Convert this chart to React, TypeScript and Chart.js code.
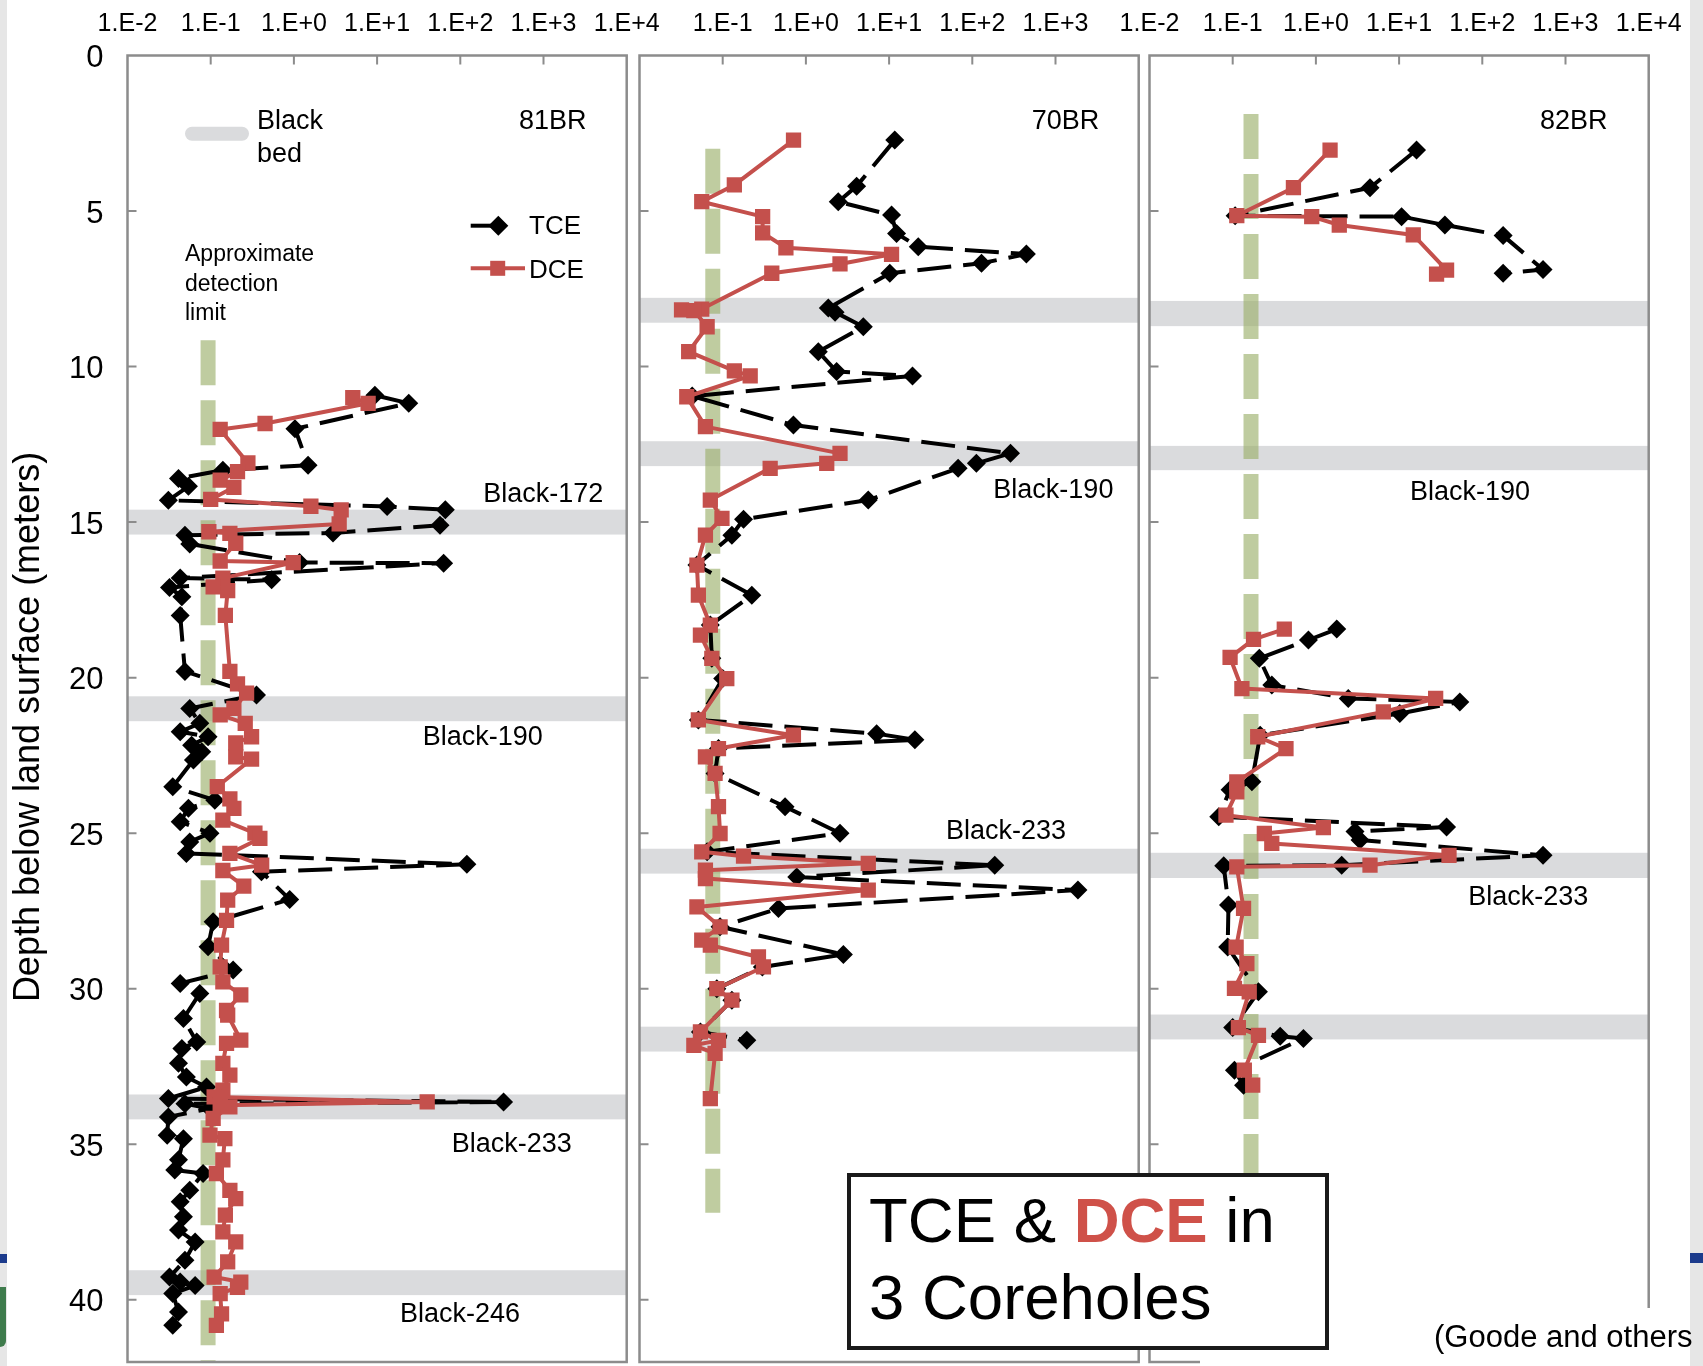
import React, { useEffect, useRef } from 'react';
import { Chart, registerables } from 'chart.js';

Chart.register(...registerables);

const W = 1703;
const H = 1366;
const FONT = "'Liberation Sans', Arial, Helvetica, sans-serif";
const RED = '#c4504c';
const BED_COLOR = '#dadbdd';
const GREEN = 'rgba(157,177,109,0.65)';
const FRAME = '#8c8c8c';

// ---- axes ----
const DECADES = [0.01, 0.1, 1, 10, 100, 1000, 10000];
const DECADE_LABELS = ['1.E-2', '1.E-1', '1.E+0', '1.E+1', '1.E+2', '1.E+3', '1.E+4'];
const DEPTH_TICKS = [0, 5, 10, 15, 20, 25, 30, 35, 40];
const DEPTH_MAX = 42;
const Y_TITLE = 'Depth below land surface (meters)';

// ---- corehole 81BR ----
const BR81_TCE_DEPTH = [10.92, 11.18, 12.0, 13.17, 13.33, 13.6, 13.85, 14.3, 14.5, 14.6, 15.1, 15.35, 15.42, 15.7, 16.3, 16.32, 16.8, 16.85, 17.1, 17.4, 18.0, 19.8, 20.56, 20.99, 21.47, 21.74, 21.9, 22.17, 22.38, 22.65, 23.51, 23.94, 24.2, 24.63, 25.0, 25.28, 25.65, 26.0, 26.24, 27.13, 27.85, 28.65, 29.4, 29.83, 30.15, 30.96, 31.71, 31.92, 32.4, 32.84, 33.16, 33.53, 33.64, 33.7, 33.85, 34.12, 34.71, 34.82, 35.5, 35.83, 35.94, 36.48, 36.85, 37.33, 37.76, 38.14, 38.73, 39.27, 39.43, 39.54, 39.8, 40.39, 40.82];
const BR81_TCE = [9.4, 24, 1.03, 1.48, 0.14, 0.041, 0.054, 0.031, 13.2, 66, 57, 2.95, 0.049, 0.056, 1.17, 63, 0.043, 0.54, 0.032, 0.045, 0.043, 0.049, 0.355, 0.056, 0.074, 0.043, 0.093, 0.059, 0.078, 0.062, 0.035, 0.112, 0.054, 0.043, 0.098, 0.056, 0.051, 120, 0.407, 0.89, 0.107, 0.093, 0.186, 0.043, 0.074, 0.047, 0.068, 0.045, 0.041, 0.051, 0.089, 0.031, 331, 0.049, 0.098, 0.031, 0.03, 0.047, 0.041, 0.037, 0.081, 0.056, 0.043, 0.047, 0.041, 0.065, 0.049, 0.032, 0.043, 0.065, 0.035, 0.041, 0.035];
const BR81_DCE_DEPTH = [11.0, 11.18, 11.83, 12.02, 13.1, 13.38, 13.65, 13.88, 14.27, 14.49, 14.61, 15.06, 15.31, 15.36, 15.68, 16.25, 16.3, 16.8, 17.08, 17.2, 18.0, 19.8, 20.2, 20.5, 20.99, 21.2, 21.47, 21.9, 22.1, 22.55, 22.62, 23.5, 23.9, 24.2, 24.58, 25.0, 25.17, 25.65, 26.03, 26.2, 26.7, 27.15, 27.8, 28.6, 29.3, 29.78, 30.2, 30.7, 30.85, 31.65, 31.76, 32.4, 32.78, 33.26, 33.48, 33.64, 33.75, 33.8, 34.17, 34.71, 34.82, 35.5, 35.94, 36.48, 36.75, 37.28, 37.82, 38.14, 38.78, 39.27, 39.43, 39.6, 39.8, 40.45, 40.82];
const BR81_DCE = [5.1, 7.8, 0.45, 0.13, 0.28, 0.21, 0.13, 0.19, 0.1, 1.6, 3.7, 3.5, 0.095, 0.17, 0.2, 0.13, 0.98, 0.14, 0.107, 0.16, 0.15, 0.17, 0.21, 0.27, 0.19, 0.13, 0.26, 0.31, 0.2, 0.2, 0.31, 0.12, 0.17, 0.19, 0.14, 0.34, 0.39, 0.17, 0.41, 0.14, 0.25, 0.16, 0.155, 0.135, 0.13, 0.14, 0.23, 0.155, 0.16, 0.23, 0.155, 0.14, 0.17, 0.14, 0.11, 40, 0.13, 0.17, 0.107, 0.098, 0.148, 0.14, 0.117, 0.17, 0.2, 0.15, 0.14, 0.2, 0.16, 0.11, 0.23, 0.21, 0.13, 0.135, 0.117];
const BR81_BEDS = [[14.6, 15.4], [20.6, 21.4], [33.4, 34.2], [39.05, 39.85]];
const BR81_LIMIT = 0.093;
const BR81_LIMIT_DEPTHS = [9.15, 42];
const BR81_NOTES = [['81BR', 508, 2.36], ['Black-172', 189, 14.35], ['Black-190', 35.3, 22.17], ['Black-233', 78.9, 35.25], ['Black-246', 18.8, 40.71]];

// ---- corehole 70BR ----
const BR70_TCE_DEPTH = [2.72, 4.2, 4.7, 5.13, 5.72, 6.15, 6.38, 6.68, 7.0, 8.12, 8.25, 8.72, 9.52, 10.16, 10.3, 10.95, 11.88, 12.79, 13.11, 13.27, 14.29, 14.91, 15.42, 16.38, 17.35, 18.31, 19.38, 20.03, 21.36, 21.8, 22.0, 22.28, 23.08, 24.15, 25.0, 25.6, 26.03, 26.41, 26.83, 27.42, 28.01, 28.9, 29.3, 30.0, 30.37, 31.39, 31.66];
const BR70_TCE = [11.7, 4.07, 2.45, 10.7, 12.3, 22.4, 447, 129, 10.2, 1.86, 2.24, 4.9, 1.41, 2.34, 19.1, 0.043, 0.708, 288, 112, 67.6, 5.62, 0.178, 0.129, 0.049, 0.224, 0.071, 0.074, 0.1, 0.051, 7.08, 20.4, 0.089, 0.081, 0.562, 2.57, 0.065, 186, 0.776, 1862, 0.468, 0.093, 2.82, 0.3, 0.085, 0.129, 0.054, 0.195];
const BR70_DCE_DEPTH = [2.72, 4.16, 4.7, 5.18, 5.7, 6.18, 6.39, 6.7, 7.0, 8.15, 8.18, 8.2, 8.72, 9.52, 10.14, 10.3, 10.97, 11.93, 12.79, 13.11, 13.27, 14.29, 14.88, 15.42, 16.38, 17.35, 18.31, 18.63, 19.38, 20.03, 21.36, 21.85, 22.28, 22.55, 23.08, 24.15, 25.01, 25.6, 25.74, 25.97, 26.19, 26.46, 26.83, 27.37, 28.01, 28.44, 28.6, 28.98, 29.3, 30.0, 30.37, 31.39, 31.66, 31.82, 32.08, 33.53];
const BR70_DCE = [0.71, 0.138, 0.056, 0.302, 0.302, 0.575, 10.7, 2.57, 0.389, 0.056, 0.032, 0.045, 0.065, 0.039, 0.138, 0.214, 0.037, 0.062, 2.57, 1.78, 0.372, 0.071, 0.098, 0.062, 0.049, 0.051, 0.071, 0.054, 0.074, 0.112, 0.051, 0.708, 0.089, 0.062, 0.081, 0.089, 0.093, 0.056, 0.178, 5.62, 0.062, 0.062, 5.62, 0.049, 0.093, 0.056, 0.071, 0.269, 0.309, 0.085, 0.129, 0.054, 0.089, 0.045, 0.081, 0.071];
const BR70_BEDS = [[7.79, 8.59], [12.4, 13.2], [25.5, 26.3], [31.22, 32.02]];
const BR70_LIMIT = 0.076;
const BR70_LIMIT_DEPTHS = [3.0, 37.2];
const BR70_NOTES = [['70BR', 518, 2.37], ['Black-190', 179, 14.24], ['Black-233', 48.3, 25.2]];

// ---- corehole 82BR (two sampled intervals) ----
const BR82_TCE_DEPTH_UPPER = [3.04, 4.25, 5.15, 5.18, 5.45, 5.79, 6.88, 7.0];
const BR82_TCE_UPPER = [16.2, 4.47, 0.107, 10.7, 35.5, 178, 537, 178];
const BR82_DCE_DEPTH_UPPER = [3.04, 4.25, 5.15, 5.18, 5.45, 5.77, 6.9, 7.03];
const BR82_DCE_UPPER = [1.48, 0.537, 0.112, 0.891, 1.91, 14.8, 37.2, 28.2];
const BR82_TCE_DEPTH_LOWER = [18.44, 18.79, 19.38, 20.24, 20.67, 20.78, 21.15, 21.85, 23.35, 23.6, 24.47, 24.8, 24.95, 25.22, 25.71, 26.03, 26.05, 27.31, 28.66, 30.1, 31.25, 31.53, 31.6, 32.62, 33.1];
const BR82_TCE_LOWER = [1.78, 0.813, 0.209, 0.295, 2.45, 53.7, 10.2, 0.214, 0.17, 0.093, 0.068, 37.2, 2.95, 3.39, 537, 2.04, 0.078, 0.089, 0.087, 0.204, 0.1, 0.372, 0.708, 0.105, 0.135];
const BR82_DCE_DEPTH_LOWER = [18.44, 18.77, 19.35, 20.35, 20.67, 21.1, 21.9, 22.28, 23.35, 23.67, 24.42, 24.82, 25.01, 25.33, 25.71, 26.03, 26.08, 27.42, 28.66, 29.19, 29.99, 30.1, 31.25, 31.5, 32.62, 33.1];
const BR82_DCE_LOWER = [0.417, 0.178, 0.093, 0.129, 27.5, 6.46, 0.2, 0.437, 0.112, 0.112, 0.083, 1.23, 0.24, 0.295, 39.8, 4.47, 0.112, 0.135, 0.11, 0.148, 0.105, 0.158, 0.117, 0.204, 0.138, 0.174];
const BR82_BEDS = [[7.89, 8.7], [12.55, 13.33], [25.63, 26.44], [30.83, 31.63]];
const BR82_LIMIT = 0.166;
const BR82_LIMIT_DEPTHS = [1.88, 37.5];
const BR82_NOTES = [['82BR', 494, 2.36], ['Black-190', 13.5, 14.28], ['Black-233', 67.9, 27.32]];

const ALL = [true, true, true, true, true, true, true];
const INNER = [false, true, true, true, true, true, false];

const PANELS = [
  { name: '81BR', left: 127.5, right: 626.7, top: 55.5, bottom: 1362, yLabels: true, legend: true, tickLabels: ALL,
    tce: [[BR81_TCE_DEPTH, BR81_TCE]], dce: [[BR81_DCE_DEPTH, BR81_DCE]],
    beds: BR81_BEDS, limit: BR81_LIMIT, limitDepths: BR81_LIMIT_DEPTHS, notes: BR81_NOTES },
  { name: '70BR', left: 639.5, right: 1138.7, top: 55.5, bottom: 1362, yLabels: false, legend: false, tickLabels: INNER,
    tce: [[BR70_TCE_DEPTH, BR70_TCE]], dce: [[BR70_DCE_DEPTH, BR70_DCE]],
    beds: BR70_BEDS, limit: BR70_LIMIT, limitDepths: BR70_LIMIT_DEPTHS, notes: BR70_NOTES },
  { name: '82BR', left: 1149.5, right: 1648.7, top: 55.5, bottom: 1362, yLabels: false, legend: false, tickLabels: ALL,
    tce: [[BR82_TCE_DEPTH_UPPER, BR82_TCE_UPPER], [BR82_TCE_DEPTH_LOWER, BR82_TCE_LOWER]],
    dce: [[BR82_DCE_DEPTH_UPPER, BR82_DCE_UPPER], [BR82_DCE_DEPTH_LOWER, BR82_DCE_LOWER]],
    beds: BR82_BEDS, limit: BR82_LIMIT, limitDepths: BR82_LIMIT_DEPTHS, notes: BR82_NOTES },
];

function drawLegend(ctx: CanvasRenderingContext2D, L: number, T: number) {
  ctx.save();
  ctx.strokeStyle = BED_COLOR;
  ctx.lineWidth = 14;
  ctx.lineCap = 'round';
  ctx.beginPath();
  ctx.moveTo(L + 64.5, T + 78.2);
  ctx.lineTo(L + 114.5, T + 78.2);
  ctx.stroke();
  ctx.lineCap = 'butt';
  ctx.fillStyle = '#000';
  ctx.textAlign = 'left';
  ctx.textBaseline = 'alphabetic';
  ctx.font = `27px ${FONT}`;
  ctx.fillText('Black', L + 129.5, T + 73.5);
  ctx.fillText('bed', L + 129.5, T + 106.2);

  // TCE
  ctx.strokeStyle = '#000';
  ctx.lineWidth = 4;
  ctx.beginPath();
  ctx.moveTo(L + 343.2, T + 170.2);
  ctx.lineTo(L + 371, T + 170.2);
  ctx.stroke();
  const dx = L + 370.8, dy = T + 170.2, r = 10;
  ctx.beginPath();
  ctx.moveTo(dx - r, dy); ctx.lineTo(dx, dy - r); ctx.lineTo(dx + r, dy); ctx.lineTo(dx, dy + r);
  ctx.closePath();
  ctx.fill();
  ctx.font = `26px ${FONT}`;
  ctx.fillText('TCE', L + 401.5, T + 178.5);

  // DCE
  ctx.strokeStyle = RED;
  ctx.beginPath();
  ctx.moveTo(L + 343.2, T + 212.8);
  ctx.lineTo(L + 397.5, T + 212.8);
  ctx.stroke();
  ctx.fillStyle = RED;
  ctx.fillRect(L + 370.2 - 7.5, T + 212.8 - 7.5, 15, 15);
  ctx.fillStyle = '#000';
  ctx.fillText('DCE', L + 401.5, T + 222.2);

  ctx.font = `23px ${FONT}`;
  ctx.fillText('Approximate', L + 57.5, T + 205.2);
  ctx.fillText('detection', L + 57.5, T + 235.2);
  ctx.fillText('limit', L + 57.5, T + 264.5);
  ctx.restore();
}

function decorPlugin(p: any) {
  return {
    id: 'decor' + p.name,
    beforeDatasetsDraw(chart: any) {
      const { ctx, chartArea: a } = chart;
      const y = chart.scales.y;
      ctx.save();
      ctx.fillStyle = BED_COLOR;
      p.beds.forEach(([t, b]: number[]) => {
        const y1 = y.getPixelForValue(t);
        const y2 = y.getPixelForValue(b);
        ctx.fillRect(a.left, y1, a.right - a.left, y2 - y1);
      });
      ctx.restore();
    },
    afterDatasetsDraw(chart: any) {
      const { ctx, chartArea: a } = chart;
      const x = chart.scales.x;
      const y = chart.scales.y;
      ctx.save();
      ctx.strokeStyle = FRAME;
      ctx.lineWidth = 2.5;
      ctx.strokeRect(a.left, a.top, a.right - a.left, a.bottom - a.top);
      ctx.lineWidth = 2;
      ctx.beginPath();
      DEPTH_TICKS.slice(1).forEach((d) => {
        const py = y.getPixelForValue(d);
        ctx.moveTo(a.left, py);
        ctx.lineTo(a.left + 9, py);
      });
      DECADES.slice(1, -1).forEach((v) => {
        const px = x.getPixelForValue(v);
        ctx.moveTo(px, a.top);
        ctx.lineTo(px, a.top + 9);
      });
      ctx.stroke();

      ctx.fillStyle = '#000';
      ctx.font = `27px ${FONT}`;
      ctx.textAlign = 'left';
      ctx.textBaseline = 'alphabetic';
      p.notes.forEach(([t, xv, d]: any[]) => {
        ctx.fillText(t, x.getPixelForValue(xv), y.getPixelForValue(d));
      });
      if (p.legend) drawLegend(ctx, a.left, a.top);
      if (p.yLabels) {
        ctx.save();
        ctx.translate(29, 727);
        ctx.rotate(-Math.PI / 2);
        ctx.textAlign = 'center';
        ctx.textBaseline = 'middle';
        ctx.font = `36px ${FONT}`;
        ctx.fillText(Y_TITLE, 0, 0);
        ctx.restore();
      }
      ctx.restore();
    },
  };
}

function makeChart(canvas: HTMLCanvasElement, p: any) {
  const toPts = (d: number[], v: number[]) => d.map((dep, i) => ({ x: v[i], y: dep }));
  const datasets: any[] = [];
  p.dce.forEach(([d, v]: number[][]) =>
    datasets.push({
      label: 'DCE', data: toPts(d, v), showLine: true, order: 1,
      borderColor: RED, backgroundColor: RED, borderWidth: 4, borderJoinStyle: 'round',
      pointStyle: 'rect', pointRadius: 10.8, pointBorderWidth: 0, pointBackgroundColor: RED,
    })
  );
  p.tce.forEach(([d, v]: number[][]) =>
    datasets.push({
      label: 'TCE', data: toPts(d, v), showLine: true, order: 2,
      borderColor: '#000', backgroundColor: '#000', borderWidth: 4, borderDash: [34, 12], borderJoinStyle: 'round',
      pointStyle: 'rectRot', pointRadius: 9.5, pointBorderWidth: 0, pointBackgroundColor: '#000',
    })
  );
  datasets.push({
    label: 'Approximate detection limit',
    data: [{ x: p.limit, y: p.limitDepths[0] }, { x: p.limit, y: p.limitDepths[1] }],
    showLine: true, order: 3, borderColor: GREEN, borderWidth: 15, borderDash: [45, 15], borderCapStyle: 'butt',
    pointRadius: 0,
  });

  return new Chart(canvas, {
    type: 'scatter',
    data: { datasets },
    options: {
      responsive: false,
      animation: false,
      events: [],
      layout: { autoPadding: false, padding: { left: p.yLabels ? 0 : p.left, right: W - p.right, top: 0, bottom: H - p.bottom } },
      plugins: { legend: { display: false }, tooltip: { enabled: false } },
      scales: {
        x: {
          type: 'logarithmic', position: 'top', min: 0.01, max: 10000,
          afterBuildTicks: (s: any) => { s.ticks = DECADES.map((v) => ({ value: v })); },
          afterFit: (s: any) => { s.height = p.top; s.paddingLeft = 0; s.paddingRight = 0; },
          grid: { display: false, drawTicks: false },
          border: { display: false },
          ticks: {
            autoSkip: false, maxRotation: 0, minRotation: 0, padding: 16.5, color: '#000',
            font: { family: FONT, size: 25 },
            callback: (_v: any, i: number) => (p.tickLabels[i] ? DECADE_LABELS[i] : ''),
          },
        },
        y: {
          type: 'linear', reverse: true, min: 0, max: DEPTH_MAX,
          afterBuildTicks: (s: any) => { s.ticks = DEPTH_TICKS.map((v) => ({ value: v })); },
          afterFit: (s: any) => { s.width = p.yLabels ? p.left : 0; s.paddingTop = 0; s.paddingBottom = 0; },
          grid: { display: false, drawTicks: false },
          border: { display: false },
          ticks: { display: p.yLabels, padding: 24, labelOffset: 3, color: '#000', font: { family: FONT, size: 31 } },
        },
      },
    } as any,
    plugins: [decorPlugin(p)],
  });
}

export default function App() {
  const r0 = useRef<HTMLCanvasElement>(null);
  const r1 = useRef<HTMLCanvasElement>(null);
  const r2 = useRef<HTMLCanvasElement>(null);
  const refs = [r0, r1, r2];

  useEffect(() => {
    const charts = PANELS.map((p, i) => makeChart(refs[i].current as HTMLCanvasElement, p));
    return () => charts.forEach((c) => c.destroy());
  }, []);

  const abs = (l: number, t: number, w: number, h: number, extra: any = {}) => ({
    position: 'absolute' as const, left: l, top: t, width: w, height: h, ...extra,
  });

  return (
    <div style={{ position: 'absolute', left: 0, top: 0, width: W, height: H, overflow: 'hidden', background: '#fff', fontFamily: FONT }}>
      <div style={abs(0, 0, 7, H, { background: '#e6e6e6' })} />
      <div style={abs(1690, 0, 13, H, { background: '#e6e6e6' })} />
      <div style={abs(0, 1254, 7, 9, { background: '#1c3b8c' })} />
      <div style={abs(1690, 1253, 13, 10, { background: '#1c3b8c' })} />
      <div style={abs(0, 1287, 6, 60, { background: '#3e7b4c', borderBottomRightRadius: 6 })} />
      {PANELS.map((p, i) => (
        <canvas key={p.name} ref={refs[i]} width={W} height={H} style={{ position: 'absolute', left: 0, top: 0 }} />
      ))}
      <div style={abs(1200, 1308, 490, 58, { background: '#fff' })} />
      <div style={abs(847, 1173, 482, 177, {
        boxSizing: 'border-box', border: '4px solid #1a1a1a', background: '#fff', paddingLeft: 18, paddingTop: 5,
        fontSize: 63.5, lineHeight: '77px', color: '#000', whiteSpace: 'nowrap',
      })}>
        <div>TCE &amp; <span style={{ color: '#cf5149', fontWeight: 700 }}>DCE</span> in</div>
        <div>3 Coreholes</div>
      </div>
      <div style={abs(1434, 1321, 269, 34, { fontSize: 31, lineHeight: '31px', color: '#000', whiteSpace: 'nowrap' })}>
        (Goode and others
      </div>
    </div>
  );
}
